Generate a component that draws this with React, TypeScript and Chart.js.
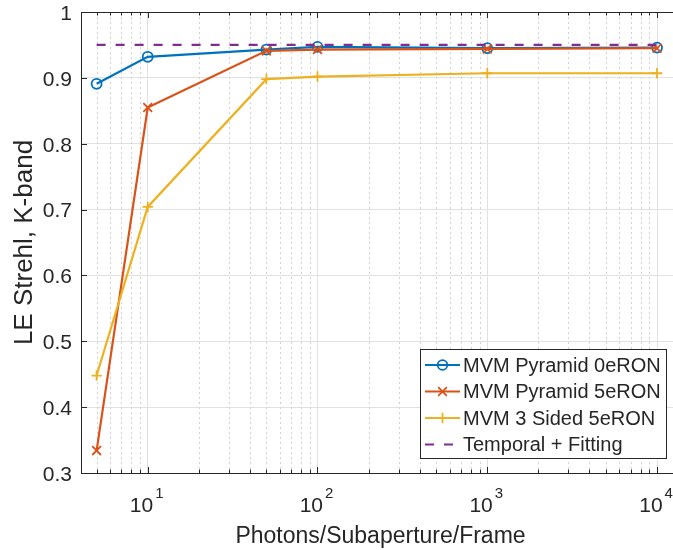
import React, { useEffect, useRef } from 'react';
import { Chart, registerables } from 'chart.js';

Chart.register(...registerables);

const FONT = "'Liberation Sans', Arial, Helvetica, sans-serif";
const AX = '#262626';
const MAJOR_GRID = '#e1e1e1';
const MINOR_GRID = '#d2d2d2';

// ---- data ----
const photons = [5, 10, 50, 100, 1000, 10000];
const pyramid0eRON = [0.891, 0.932, 0.943, 0.947, 0.945, 0.946];
const pyramid5eRON = [0.334, 0.855, 0.941, 0.943, 0.944, 0.945];
const sided3_5eRON = [0.448, 0.704, 0.898, 0.902, 0.907, 0.907];
const fittingX = [5, 10000];
const temporalFitting = [0.95, 0.95];

const seriesLabels = ['MVM Pyramid 0eRON', 'MVM Pyramid 5eRON', 'MVM 3 Sided 5eRON', 'Temporal + Fitting'];
const seriesColors = ['#0072BD', '#D95319', '#EDB120', '#7E2F8E'];
const seriesMarkers = ['circle', 'crossRot', 'cross', 'none'];

const xMin = 4.046;
const xMax = 13650;
const yMin = 0.3;
const yMax = 1;
const xTickValues = [10, 100, 1000, 10000];
const xTickExponents = ['1', '2', '3', '4'];
const xTitle = 'Photons/Subaperture/Frame';
const yTitle = 'LE Strehl, K-band';

function minorTicks(): number[] {
  const out: number[] = [];
  [1, 10, 100, 1000, 10000].forEach((d) => {
    for (let k = 2; k <= 9; k++) {
      const v = k * d;
      if (v >= xMin && v <= xMax) out.push(v);
    }
  });
  return out;
}
const xMinor = minorTicks();

function drawMarker(ctx: CanvasRenderingContext2D, style: string, x: number, y: number, color: string) {
  ctx.save();
  ctx.strokeStyle = color;
  ctx.lineWidth = 1.8;
  ctx.setLineDash([]);
  ctx.beginPath();
  if (style === 'circle') {
    ctx.arc(x, y, 4.8, 0, Math.PI * 2);
  } else if (style === 'crossRot') {
    const r = 4.3;
    ctx.moveTo(x - r, y - r); ctx.lineTo(x + r, y + r);
    ctx.moveTo(x - r, y + r); ctx.lineTo(x + r, y - r);
  } else if (style === 'cross') {
    const r = 5.2;
    ctx.moveTo(x - r, y); ctx.lineTo(x + r, y);
    ctx.moveTo(x, y - r); ctx.lineTo(x, y + r);
  }
  ctx.stroke();
  ctx.restore();
}

const matlabPlugin = {
  id: 'matlabDecor',
  beforeDatasetsDraw(chart: any) {
    const { ctx, chartArea: a } = chart;
    const x = chart.scales.x;
    const y = chart.scales.y;
    ctx.save();
    // minor dotted grid
    ctx.strokeStyle = MINOR_GRID;
    ctx.lineWidth = 1;
    ctx.setLineDash([2, 3]);
    ctx.beginPath();
    xMinor.forEach((v) => {
      const px = Math.round(x.getPixelForValue(v)) + 0.5;
      ctx.moveTo(px, a.top);
      ctx.lineTo(px, a.bottom);
    });
    ctx.stroke();
    ctx.setLineDash([]);
    // top border
    ctx.strokeStyle = AX;
    ctx.lineWidth = 1;
    ctx.beginPath();
    ctx.moveTo(a.left, a.top + 0.5);
    ctx.lineTo(a.right, a.top + 0.5);
    // inward tick marks
    xTickValues.forEach((v) => {
      const px = Math.round(x.getPixelForValue(v)) + 0.5;
      ctx.moveTo(px, a.bottom); ctx.lineTo(px, a.bottom - 6);
      ctx.moveTo(px, a.top); ctx.lineTo(px, a.top + 6);
    });
    xMinor.forEach((v) => {
      const px = Math.round(x.getPixelForValue(v)) + 0.5;
      ctx.moveTo(px, a.bottom); ctx.lineTo(px, a.bottom - 3.5);
      ctx.moveTo(px, a.top); ctx.lineTo(px, a.top + 3.5);
    });
    y.ticks.forEach((t: any) => {
      const py = Math.round(y.getPixelForValue(t.value)) + 0.5;
      ctx.moveTo(a.left, py); ctx.lineTo(a.left + 6, py);
    });
    ctx.stroke();
    ctx.restore();
  },
  afterDraw(chart: any) {
    const { ctx } = chart;
    const x = chart.scales.x;
    ctx.save();
    // x tick labels with superscript exponents
    ctx.fillStyle = AX;
    ctx.textBaseline = 'alphabetic';
    ctx.textAlign = 'left';
    xTickValues.forEach((v, i) => {
      const px = x.getPixelForValue(v);
      ctx.font = `21px ${FONT}`;
      const w1 = ctx.measureText('10').width;
      ctx.font = `15px ${FONT}`;
      const w2 = ctx.measureText(xTickExponents[i]).width;
      const start = px - (w1 + 2 + w2) / 2 - 1;
      ctx.font = `21px ${FONT}`;
      ctx.fillText('10', start, 512);
      ctx.font = `15px ${FONT}`;
      ctx.fillText(xTickExponents[i], start + w1 + 2, 498);
    });

    // legend box
    const bx = 420.5, by = 349.5, bw = 246, bh = 109;
    ctx.fillStyle = '#ffffff';
    ctx.fillRect(bx, by, bw, bh);
    ctx.strokeStyle = AX;
    ctx.lineWidth = 1;
    ctx.strokeRect(bx, by, bw, bh);
    const rows = [365, 391.5, 418, 444.5];
    chart.data.datasets.forEach((ds: any, i: number) => {
      const cy = rows[i];
      ctx.save();
      ctx.strokeStyle = ds.borderColor;
      ctx.lineWidth = 2.2;
      ctx.setLineDash(ds.borderDash || []);
      ctx.beginPath();
      ctx.moveTo(425, cy);
      ctx.lineTo(460, cy);
      ctx.stroke();
      ctx.restore();
      drawMarker(ctx, seriesMarkers[i], 442.5, cy, ds.borderColor);
      ctx.fillStyle = AX;
      ctx.font = `20px ${FONT}`;
      ctx.textBaseline = 'middle';
      ctx.textAlign = 'left';
      ctx.fillText(ds.label, 463, cy + 1);
    });
    ctx.restore();
  },
};

function pts(xs: number[], ys: number[]) {
  return xs.map((v, i) => ({ x: v, y: ys[i] }));
}

export default function App() {
  const ref = useRef<HTMLCanvasElement | null>(null);
  useEffect(() => {
    document.body.style.margin = '0';
    const canvas = ref.current;
    if (!canvas) return;
    const series = [pyramid0eRON, pyramid5eRON, sided3_5eRON];
    const datasets: any[] = series.map((s, i) => ({
      label: seriesLabels[i],
      data: pts(photons, s),
      borderColor: seriesColors[i],
      backgroundColor: 'rgba(0,0,0,0)',
      borderWidth: 2.2,
      pointStyle: seriesMarkers[i],
      pointRadius: seriesMarkers[i] === 'circle' ? 5 : seriesMarkers[i] === 'crossRot' ? 6.2 : 5.2,
      pointBorderWidth: 1.8,
      pointBorderColor: seriesColors[i],
      pointBackgroundColor: 'rgba(0,0,0,0)',
      tension: 0,
      order: 4 - i,
    }));
    datasets.push({
      label: seriesLabels[3],
      data: pts(fittingX, temporalFitting),
      borderColor: seriesColors[3],
      backgroundColor: 'rgba(0,0,0,0)',
      borderWidth: 2.2,
      borderDash: [9, 10],
      pointRadius: 0,
      tension: 0,
      order: 1,
    });
    const chart = new Chart(canvas, {
      type: 'line',
      data: { datasets },
      options: {
        responsive: false,
        animation: false,
        events: [],
        layout: { padding: { top: 12, right: 10, left: 0, bottom: 0 } },
        plugins: { legend: { display: false }, tooltip: { enabled: false } },
        scales: {
          x: {
            type: 'logarithmic',
            position: 'bottom',
            min: xMin,
            max: xMax,
            afterBuildTicks: (scale: any) => {
              scale.ticks = xTickValues.map((v) => ({ value: v }));
            },
            afterFit: (scale: any) => {
              scale.height = 77;
              scale.paddingLeft = 0;
              scale.paddingRight = 0;
            },
            grid: { color: MAJOR_GRID, lineWidth: 1, drawTicks: false },
            border: { display: true, color: AX, width: 1 },
            ticks: { display: false },
            title: {
              display: true,
              text: xTitle,
              color: AX,
              font: { family: FONT, size: 23 },
              padding: { top: 0, bottom: 0 },
            },
          },
          y: {
            type: 'linear',
            min: yMin,
            max: yMax,
            afterFit: (scale: any) => {
              scale.width = 81;
              scale.paddingTop = 0;
              scale.paddingBottom = 0;
            },
            grid: { color: MAJOR_GRID, lineWidth: 1, drawTicks: false },
            border: { display: true, color: AX, width: 1 },
            ticks: {
              stepSize: 0.1,
              padding: 9,
              labelOffset: 2,
              color: AX,
              font: { family: FONT, size: 21 },
              callback: (v: any) => (Math.abs(Number(v) - 1) < 1e-9 ? '1' : Number(v).toFixed(1)),
            },
            title: {
              display: true,
              text: yTitle,
              color: AX,
              font: { family: FONT, size: 26 },
              padding: { top: 9, bottom: 0 },
            },
          },
        },
      } as any,
      plugins: [matlabPlugin as any],
    });
    return () => chart.destroy();
  }, []);
  return (
    <div style={{ width: 673, height: 550, overflow: 'hidden', position: 'relative' }}>
      <canvas ref={ref} width={690} height={550} style={{ display: 'block', width: 690, height: 550 }} />
    </div>
  );
}
